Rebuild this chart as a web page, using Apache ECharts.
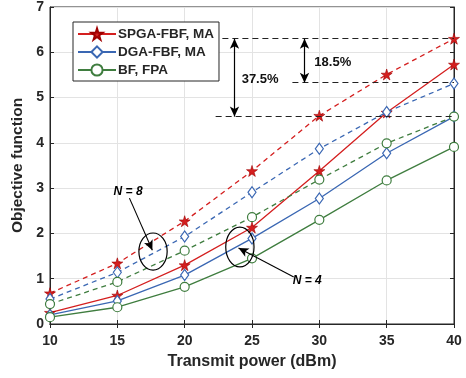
<!DOCTYPE html>
<html>
<head>
<meta charset="utf-8">
<script src="https://cdn.jsdelivr.net/npm/echarts@6/dist/echarts.min.js"></script>
<style>
  html, body { margin: 0; padding: 0; background: #fff; }
  #chart { width: 466px; height: 378px; }
</style>
</head>
<body>
<div id="chart"></div>
<script>
// ---- data ----
const power = [10, 15, 20, 25, 30, 35, 40];

const spgaN4 = [0.25, 0.63, 1.30, 2.13, 3.38, 4.67, 5.73];
const dgaN4  = [0.20, 0.51, 1.08, 1.89, 2.77, 3.77, 4.58];
const bfN4   = [0.15, 0.37, 0.82, 1.45, 2.30, 3.17, 3.91];

const spgaN8 = [0.68, 1.34, 2.27, 3.38, 4.60, 5.51, 6.30];
const dgaN8  = [0.55, 1.14, 1.93, 2.91, 3.87, 4.68, 5.31];
const bfN8   = [0.44, 0.93, 1.62, 2.36, 3.19, 3.99, 4.58];

const xTicks = [10, 15, 20, 25, 30, 35, 40];
const yTicks = [0, 1, 2, 3, 4, 5, 6, 7];

// reference levels (dashed) and gain arrows
const refLevels = [
  { y: 6.30, from: 22.8 },
  { y: 5.33, from: 28.0 },
  { y: 4.58, from: 22.3 },
];
const gainArrows = [
  { x: 23.7, y1: 6.30, y2: 4.58, text: '37.5%', tx: 25.6, ty: 5.41 },
  { x: 28.9, y1: 6.30, y2: 5.33, text: '18.5%', tx: 31.0, ty: 5.78 },
];
// N labels: ellipse centre, text position, arrow start/end
const nNotes = [
  { text: 'N = 8', cx: 17.65, cy: 1.60, rx: 1.05, ry: 0.41, tx: 15.8, ty: 2.92, ax: 15.9, ay: 2.78, bx: 17.6, by: 1.63 },
  { text: 'N = 4', cx: 24.1, cy: 1.70, rx: 1.05, ry: 0.44, tx: 29.1, ty: 0.95, ax: 28.1, ay: 1.04, bx: 24.0, by: 1.68 },
];

const RED = '#d41f1f';
const BLUE = '#3a67b3';
const GREEN = '#3f7d3f';
const TXT = '#262626';
const FONT = '"Liberation Sans", Arial, Helvetica, sans-serif';
const STAR = 'path://M50,0 L61,35 L98,35 L68,57 L79,91 L50,70 L21,91 L32,57 L2,35 L39,35 Z';

const chart = echarts.init(document.getElementById('chart'), null, { renderer: 'canvas' });

function mk(name, data, color, dashed, symbol, size, filled) {
  return {
    type: 'line',
    name: name,
    data: power.map((p, i) => [p, data[i]]),
    symbol: symbol,
    symbolSize: size,
    showSymbol: true,
    lineStyle: { color: color, width: 1.3, type: dashed ? [5, 4] : 'solid' },
    itemStyle: { color: filled ? color : '#fff', borderColor: filled ? '#a00000' : color, borderWidth: filled ? 0.6 : 1.2 },
    z: 3,
  };
}

const axisCommon = {
  type: 'value',
  axisLine: { show: true, lineStyle: { color: TXT, width: 1 } },
  axisTick: { show: true, inside: true, length: 4, lineStyle: { color: TXT } },
  splitLine: { show: false },
};

const series = [
  mk('SPGA-FBF, MA', spgaN4, RED, false, STAR, 11, true),
  mk('DGA-FBF, MA', dgaN4, BLUE, false, 'diamond', [8, 11], false),
  mk('BF, FPA', bfN4, GREEN, false, 'circle', 9, false),
  mk('SPGA-FBF, MA', spgaN8, RED, true, STAR, 11, true),
  mk('DGA-FBF, MA', dgaN8, BLUE, true, 'diamond', [8, 11], false),
  mk('BF, FPA', bfN8, GREEN, true, 'circle', 9, false),
];

// annotation lines in data coordinates
series.push({
  type: 'line',
  data: [],
  silent: true,
  markLine: {
    silent: true,
    animation: false,
    label: { show: false },
    data: [
      ...refLevels.map(r => [
        { coord: [r.from, r.y], symbol: 'none', lineStyle: { color: '#222', type: [6, 4], width: 1.1 } },
        { coord: [40, r.y], symbol: 'none' },
      ]),
      ...gainArrows.map(a => [
        { coord: [a.x, a.y1], symbol: 'arrow', symbolSize: [7, 10], lineStyle: { color: '#000', type: 'solid', width: 1.2 } },
        { coord: [a.x, a.y2], symbol: 'arrow', symbolSize: [7, 10] },
      ]),
      ...nNotes.map(n => [
        { coord: [n.ax, n.ay], symbol: 'none', lineStyle: { color: '#000', type: 'solid', width: 1.1 } },
        { coord: [n.bx, n.by], symbol: 'arrow', symbolSize: [7, 10] },
      ]),
    ],
  },
});

chart.setOption({
  animation: false,
  backgroundColor: '#fff',
  textStyle: { fontFamily: FONT },
  grid: { left: 50, right: 12, top: 7, bottom: 54, show: true, borderColor: TXT, borderWidth: 1 },
  legend: {
    data: ['SPGA-FBF, MA', 'DGA-FBF, MA', 'BF, FPA'],
    orient: 'vertical',
    left: 73,
    top: 22,
    padding: [5, 5, 4, 4],
    itemGap: 4,
    itemWidth: 38,
    itemHeight: 14,
    backgroundColor: '#fff',
    borderColor: TXT,
    borderWidth: 1,
    borderRadius: 0,
    textStyle: { fontFamily: FONT, fontSize: 13.5, fontWeight: 'bold', color: TXT, padding: [0, 0, 0, -3] },
  },
  xAxis: [
    {
      ...axisCommon,
      min: xTicks[0], max: xTicks[xTicks.length - 1], interval: 5,
      name: 'Transmit power (dBm)',
      nameLocation: 'middle',
      nameGap: 30,
      nameTextStyle: { fontFamily: FONT, fontSize: 16, fontWeight: 'bold', color: TXT },
      axisLabel: { fontFamily: FONT, fontSize: 14, fontWeight: 'bold', color: TXT, margin: 10 },
      splitLine: { show: true, lineStyle: { color: '#e3e3e3', width: 1 } },
    },
    {
      ...axisCommon,
      position: 'top',
      min: xTicks[0], max: xTicks[xTicks.length - 1], interval: 5,
      axisLabel: { show: false },
    },
  ],
  yAxis: [
    {
      ...axisCommon,
      min: yTicks[0], max: yTicks[yTicks.length - 1], interval: 1,
      name: 'Objective function',
      nameLocation: 'middle',
      nameGap: 22,
      nameTextStyle: { fontFamily: FONT, fontSize: 15.5, fontWeight: 'bold', color: TXT },
      axisLabel: { fontFamily: FONT, fontSize: 14, fontWeight: 'bold', color: TXT, margin: 6 },
      splitLine: { show: true, lineStyle: { color: '#e3e3e3', width: 1 } },
    },
    {
      ...axisCommon,
      position: 'right',
      min: yTicks[0], max: yTicks[yTicks.length - 1], interval: 1,
      axisLabel: { show: false },
    },
  ],
  series: series,
});

// ellipses and text labels placed from data coordinates
function px(x, y) { return chart.convertToPixel({ gridIndex: 0 }, [x, y]); }
const graphics = [];
nNotes.forEach(n => {
  const c = px(n.cx, n.cy);
  const e = px(n.cx + n.rx, n.cy + n.ry);
  graphics.push({
    type: 'ellipse', silent: true, z: 10,
    shape: { cx: c[0], cy: c[1], rx: e[0] - c[0], ry: c[1] - e[1] },
    style: { fill: 'none', stroke: '#000', lineWidth: 1.2 },
  });
  const t = px(n.tx, n.ty);
  graphics.push({
    type: 'text', silent: true, z: 10, x: t[0], y: t[1],
    style: { text: n.text, font: 'italic bold 12px ' + FONT, fill: '#000', align: 'center', verticalAlign: 'middle' },
  });
});
gainArrows.forEach(a => {
  const t = px(a.tx, a.ty);
  graphics.push({
    type: 'text', silent: true, z: 10, x: t[0], y: t[1],
    style: { text: a.text, font: 'bold 13px ' + FONT, fill: '#111', align: 'center', verticalAlign: 'middle' },
  });
});
chart.setOption({ graphic: graphics });
</script>
</body>
</html>
